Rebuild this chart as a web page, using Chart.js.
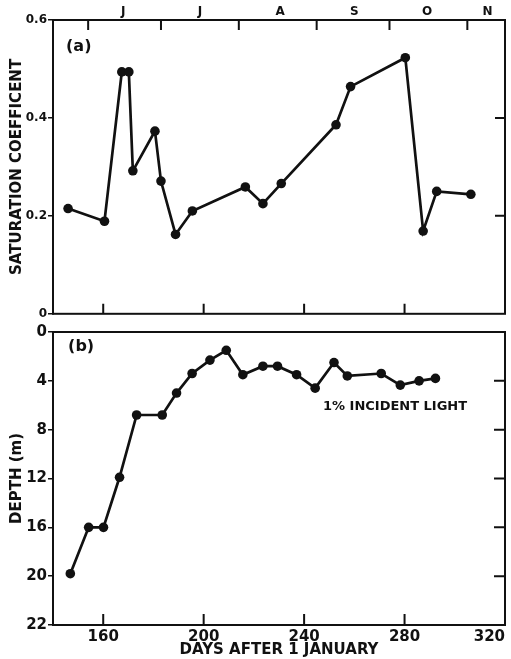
<!DOCTYPE html>
<html>
<head>
<meta charset="utf-8">
<script src="https://cdn.jsdelivr.net/npm/chart.js@4/dist/chart.umd.min.js"></script>
<style>
body { margin: 0; background: #fff; }
.box { position: absolute; left: 0; width: 511px; }
</style>
</head>
<body>
<div class="box" style="top:0;height:322px"><canvas id="chart1"></canvas></div>
<div class="box" style="top:322px;height:337px"><canvas id="chart2"></canvas></div>
<script>
// panel (a): saturation coefficient
var satDays = [146, 160.5, 167.4, 170.2, 171.8, 180.6, 183, 188.8, 195.5, 216.6, 223.6, 230.9, 252.7, 258.5, 280.3, 287.4, 292.8, 306.4];
var satCoef = [0.215, 0.189, 0.494, 0.494, 0.292, 0.373, 0.271, 0.162, 0.210, 0.259, 0.225, 0.266, 0.386, 0.464, 0.523, 0.169, 0.250, 0.244];

// panel (b): depth of 1% incident light
var lightDays = [146.9, 154.2, 160.1, 166.5, 173.3, 183.5, 189.2, 195.4, 202.5, 209, 215.6, 223.6, 229.4, 237, 244.4, 251.9, 257.2, 270.7, 278.3, 285.8, 292.3];
var lightDepth = [19.8, 16, 16, 11.9, 6.8, 6.8, 5.0, 3.4, 2.3, 1.5, 3.5, 2.8, 2.8, 3.5, 4.6, 2.5, 3.6, 3.4, 4.35, 4.0, 3.8];

// axes
var dayTicks = [160, 200, 240, 280, 320];
var monthStarts = [154, 183, 214, 245, 274, 305];
var monthMid = [168, 198.5, 230.5, 260, 289, 313];
var monthLabels = ['J', 'J', 'A', 'S', 'O', 'N'];
var satTicks = [0, 0.2, 0.4, 0.6];
var satTickLabels = ['0', '0.2', '0.4', '0.6'];
var depthTicks = [0, 4, 8, 12, 16, 20, 24];
var depthTickLabels = ['0', '4', '8', '12', '16', '20', '22'];

var ink = '#111';
var fam = '"DejaVu Sans", sans-serif';

// frame + inward tick marks + text notes
var frameTicks = {
  id: 'frameTicks',
  afterDraw: function (chart, args, o) {
    var ctx = chart.ctx, a = chart.chartArea;
    var xs = chart.scales.x, ys = chart.scales.y;
    ctx.save();
    ctx.strokeStyle = ink;
    ctx.lineWidth = 2;
    ctx.strokeRect(a.left, a.top, a.right - a.left, a.bottom - a.top);
    ctx.beginPath();
    (o.bottom || []).forEach(function (v) {
      var p = xs.getPixelForValue(v);
      ctx.moveTo(p, a.bottom); ctx.lineTo(p, a.bottom - o.len);
    });
    (o.top || []).forEach(function (v) {
      var p = xs.getPixelForValue(v);
      ctx.moveTo(p, a.top); ctx.lineTo(p, a.top + o.len);
    });
    (o.right || []).forEach(function (v) {
      var p = ys.getPixelForValue(v);
      ctx.moveTo(a.right, p); ctx.lineTo(a.right - o.len, p);
    });
    ctx.stroke();
    ctx.fillStyle = ink;
    ctx.textBaseline = 'middle';
    (o.notes || []).forEach(function (n) {
      ctx.font = 'bold ' + n.size + 'px ' + fam;
      ctx.fillText(n.text, xs.getPixelForValue(n.x), ys.getPixelForValue(n.y));
    });
    ctx.restore();
  }
};

function leftAxis(title, size) {
  return {
    position: 'left',
    grid: { display: true, drawOnChartArea: false, drawTicks: true, tickLength: 5, color: ink, lineWidth: 1.5 },
    border: { display: true, color: ink, width: 2 },
    title: { display: true, text: title, color: ink, font: { family: fam, size: 15, weight: 'bold' }, padding: { top: 8, bottom: 0 } },
    ticks: { color: ink, padding: 1, font: { family: fam, size: size, weight: 'bold' } },
    afterFit: function (s) { s.width = 53; }
  };
}

var yA = leftAxis('SATURATION COEFFICENT', 12);
yA.min = 0; yA.max = 0.6;
yA.afterBuildTicks = function (s) { s.ticks = satTicks.map(function (v) { return { value: v }; }); };
yA.ticks.callback = function (v) { return satTickLabels[satTicks.indexOf(v)]; };

new Chart('chart1', {
  type: 'line',
  data: {
    datasets: [{
      data: satDays.map(function (d, i) { return { x: d, y: satCoef[i] }; }),
      borderColor: ink, backgroundColor: ink, borderWidth: 2.7,
      pointRadius: 4.8, pointBackgroundColor: ink, pointBorderWidth: 0,
      tension: 0, fill: false
    }]
  },
  options: {
    responsive: true, maintainAspectRatio: false, animation: false,
    layout: { autoPadding: false, padding: { left: 0, right: 6, top: 0, bottom: 6 } },
    plugins: {
      legend: { display: false }, tooltip: { enabled: false },
      frameTicks: {
        len: 10,
        bottom: [160, 200, 240, 280],
        top: monthStarts,
        right: [0.2, 0.4],
        notes: [{ text: '(a)', x: 145.2, y: 0.545, size: 16 }]
      }
    },
    scales: {
      x: { type: 'linear', min: 140, max: 320, display: false },
      xTop: {
        type: 'linear', position: 'top', min: 140, max: 320,
        grid: { display: false, drawTicks: false }, border: { display: false },
        afterBuildTicks: function (s) { s.ticks = monthMid.map(function (v) { return { value: v }; }); },
        ticks: {
          color: ink, padding: 1, maxRotation: 0, autoSkip: false,
          font: { family: fam, size: 12, weight: 'bold' },
          callback: function (v) { return monthLabels[monthMid.indexOf(v)]; }
        },
        afterFit: function (s) { s.height = 20; }
      },
      y: yA
    }
  },
  plugins: [frameTicks]
});

var yB = leftAxis('DEPTH (m)', 15);
yB.min = 0; yB.max = 24; yB.reverse = true;
yB.afterBuildTicks = function (s) { s.ticks = depthTicks.map(function (v) { return { value: v }; }); };
yB.ticks.callback = function (v) { return depthTickLabels[depthTicks.indexOf(v)]; };

new Chart('chart2', {
  type: 'line',
  data: {
    datasets: [{
      data: lightDays.map(function (d, i) { return { x: d, y: lightDepth[i] }; }),
      borderColor: ink, backgroundColor: ink, borderWidth: 2.7,
      pointRadius: 4.8, pointBackgroundColor: ink, pointBorderWidth: 0,
      tension: 0, fill: false
    }]
  },
  options: {
    responsive: true, maintainAspectRatio: false, animation: false,
    layout: { autoPadding: false, padding: { left: 0, right: 6, top: 5, bottom: 0 } },
    plugins: {
      legend: { display: false }, tooltip: { enabled: false },
      frameTicks: {
        len: 11,
        bottom: [160, 200, 240, 280],
        right: [4, 8, 12, 16, 20],
        notes: [
          { text: '(b)', x: 146, y: 1.2, size: 16 },
          { text: '1% INCIDENT LIGHT', x: 247.5, y: 6.1, size: 13 }
        ]
      }
    },
    scales: {
      x: {
        type: 'linear', position: 'bottom', min: 140, max: 320,
        grid: { display: false, drawTicks: false }, border: { display: false },
        afterBuildTicks: function (s) { s.ticks = [140].concat(dayTicks).map(function (v) { return { value: v }; }); },
        ticks: {
          color: ink, padding: 3, maxRotation: 0, autoSkip: false, align: 'inner',
          font: { family: fam, size: 15, weight: 'bold' },
          callback: function (v) { return v === 140 ? '' : String(v); }
        },
        title: { display: true, text: 'DAYS AFTER 1 JANUARY', color: ink, font: { family: fam, size: 15, weight: 'bold' }, padding: { top: 0, bottom: 0 } },
        afterFit: function (s) { s.height = 34; }
      },
      y: yB
    }
  },
  plugins: [frameTicks]
});
</script>
</body>
</html>
